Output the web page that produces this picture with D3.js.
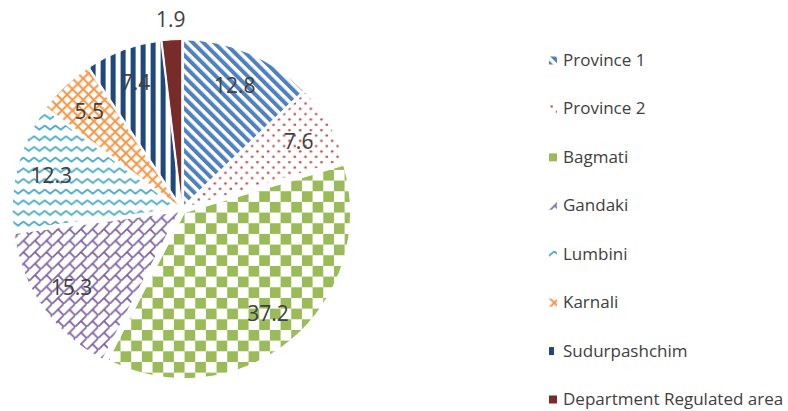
<!DOCTYPE html>
<meta charset="utf-8">
<head>
  <style>
    body { margin: 0; background: #fff; }
    .label { font-family: "Open Sans", sans-serif; font-size: 21px; fill: #404040; }
    .legend text { font-family: "Open Sans", sans-serif; font-size: 17px; fill: #404040; }
  </style>
  <script src="https://cdn.jsdelivr.net/npm/d3@7/dist/d3.min.js"></script>
</head>
<body>
<script>

// data
var categories = ["Province 1", "Province 2", "Bagmati", "Gandaki", "Lumbini",
                  "Karnali", "Sudurpashchim", "Department Regulated area"];
var values = [12.8, 7.6, 37.2, 15.3, 12.3, 5.5, 7.4, 1.9];
var labels = ["12.8", "7.6", "37.2", "15.3", "12.3", "5.5", "7.4", "1.9"];

// one pattern id per category, same order
var patternIds = ["p_diag", "p_dots", "p_check", "p_brick", "p_wave", "p_lattice", "p_vert", "p_solid"];

var width = 788, height = 411;
var cx = 182, cy = 209.5, radius = 166, explode = 4;

var svg = d3.select("body").append("svg")
    .attr("width", width)
    .attr("height", height);

var defs = svg.append("defs");
var t = 10.67; // pattern tile

// Province 1 - downward diagonal stripes
var p = defs.append("pattern").attr("id", "p_diag")
    .attr("patternUnits", "userSpaceOnUse")
    .attr("width", 7.5).attr("height", 7.5)
    .attr("patternTransform", "rotate(-45)");
p.append("rect").attr("width", 7.5).attr("height", 7.5).attr("fill", "#fff");
p.append("rect").attr("width", 4).attr("height", 7.5).attr("fill", "#4f81bd");

// Province 2 - dots
p = defs.append("pattern").attr("id", "p_dots")
    .attr("patternUnits", "userSpaceOnUse")
    .attr("width", t).attr("height", t);
p.append("rect").attr("width", t).attr("height", t).attr("fill", "#fff");
p.append("circle").attr("cx", t / 4).attr("cy", t / 4).attr("r", 1.3).attr("fill", "#c0504d");
p.append("circle").attr("cx", 3 * t / 4).attr("cy", 3 * t / 4).attr("r", 1.3).attr("fill", "#c0504d");

// Bagmati - checkerboard
p = defs.append("pattern").attr("id", "p_check")
    .attr("patternUnits", "userSpaceOnUse")
    .attr("width", 2 * t).attr("height", 2 * t)
    .attr("patternTransform", "translate(" + t + ",0)");
p.append("rect").attr("width", 2 * t).attr("height", 2 * t).attr("fill", "#fff");
p.append("rect").attr("width", t).attr("height", t).attr("fill", "#9bbb59");
p.append("rect").attr("x", t).attr("y", t).attr("width", t).attr("height", t).attr("fill", "#9bbb59");

// Gandaki - diagonal brick
var tb = 11.5;
p = defs.append("pattern").attr("id", "p_brick")
    .attr("patternUnits", "userSpaceOnUse")
    .attr("width", tb).attr("height", tb);
p.append("rect").attr("width", tb).attr("height", tb).attr("fill", "#fff");
p.append("path")
    .attr("d", "M-1," + (tb + 1) + "L" + (tb + 1) + ",-1 M" + (tb / 2) + "," + (tb / 2) + "L" + tb + "," + tb)
    .attr("stroke", "#8064a2").attr("stroke-width", 1.7).attr("fill", "none");

// Lumbini - wave
p = defs.append("pattern").attr("id", "p_wave")
    .attr("patternUnits", "userSpaceOnUse")
    .attr("width", t).attr("height", t);
p.append("rect").attr("width", t).attr("height", t).attr("fill", "#fff");
p.append("path")
    .attr("d", "M-2.67,4 L0,6.5 L5.33,2.5 L10.67,6.5 L13.3,4")
    .attr("stroke", "#4bacc6").attr("stroke-width", 1.8)
    .attr("stroke-linejoin", "round").attr("fill", "none");

// Karnali - diagonal lattice
p = defs.append("pattern").attr("id", "p_lattice")
    .attr("patternUnits", "userSpaceOnUse")
    .attr("width", t).attr("height", t);
p.append("rect").attr("width", t).attr("height", t).attr("fill", "#fff");
p.append("path")
    .attr("d", "M-1,-1L" + (t + 1) + "," + (t + 1) + "M-1," + (t + 1) + "L" + (t + 1) + ",-1")
    .attr("stroke", "#f79646").attr("stroke-width", 2).attr("fill", "none");

// Sudurpashchim - vertical stripes
p = defs.append("pattern").attr("id", "p_vert")
    .attr("patternUnits", "userSpaceOnUse")
    .attr("width", 10).attr("height", 10);
p.append("rect").attr("width", 10).attr("height", 10).attr("fill", "#fff");
p.append("rect").attr("width", 5).attr("height", 10).attr("fill", "#1f497d");

// Department - solid
p = defs.append("pattern").attr("id", "p_solid")
    .attr("patternUnits", "userSpaceOnUse")
    .attr("width", 4).attr("height", 4);
p.append("rect").attr("width", 4).attr("height", 4).attr("fill", "#772c2a");

var pie = d3.pie().sort(null).value(function(d) { return d; });
var arcs = pie(values);

var arc = d3.arc().innerRadius(0).outerRadius(radius);
var labelArc = d3.arc().innerRadius(131).outerRadius(131);
var outerArc = d3.arc().innerRadius(radius + 20).outerRadius(radius + 20);

function offset(d) {
  var a = (d.startAngle + d.endAngle) / 2;
  return [explode * Math.sin(a), -explode * Math.cos(a)];
}

var g = svg.append("g").attr("transform", "translate(" + cx + "," + cy + ")");

g.selectAll("path.slice")
  .data(arcs)
  .enter().append("path")
    .attr("class", "slice")
    .attr("transform", function(d) { var o = offset(d); return "translate(" + o[0] + "," + o[1] + ")"; })
    .attr("d", arc)
    .attr("fill", function(d, i) { return "url(#" + patternIds[i] + ")"; })
    .attr("stroke", "#fff")
    .attr("stroke-width", 1);

g.selectAll("text.label")
  .data(arcs)
  .enter().append("text")
    .attr("class", "label")
    .attr("text-anchor", "middle")
    .attr("dy", "0.36em")
    .attr("transform", function(d) {
      var o = offset(d);
      var c = (d.value < 3) ? outerArc.centroid(d) : labelArc.centroid(d);
      return "translate(" + (c[0] + o[0]) + "," + (c[1] + o[1]) + ")";
    })
    .text(function(d, i) { return labels[i]; });

// legend
var legendY = d3.scalePoint().domain(categories).range([66, 405]);

var legend = svg.selectAll(".legend")
  .data(categories)
  .enter().append("g")
    .attr("class", "legend")
    .attr("transform", function(d) { return "translate(549," + legendY(d) + ")"; });

legend.append("rect")
    .attr("x", 0)
    .attr("y", -9.5)
    .attr("width", 8)
    .attr("height", 8)
    .attr("fill", function(d, i) { return "url(#" + patternIds[i] + ")"; });

legend.append("text")
    .attr("x", 14)
    .attr("y", 0)
    .text(function(d) { return d; });

</script>
</body>
